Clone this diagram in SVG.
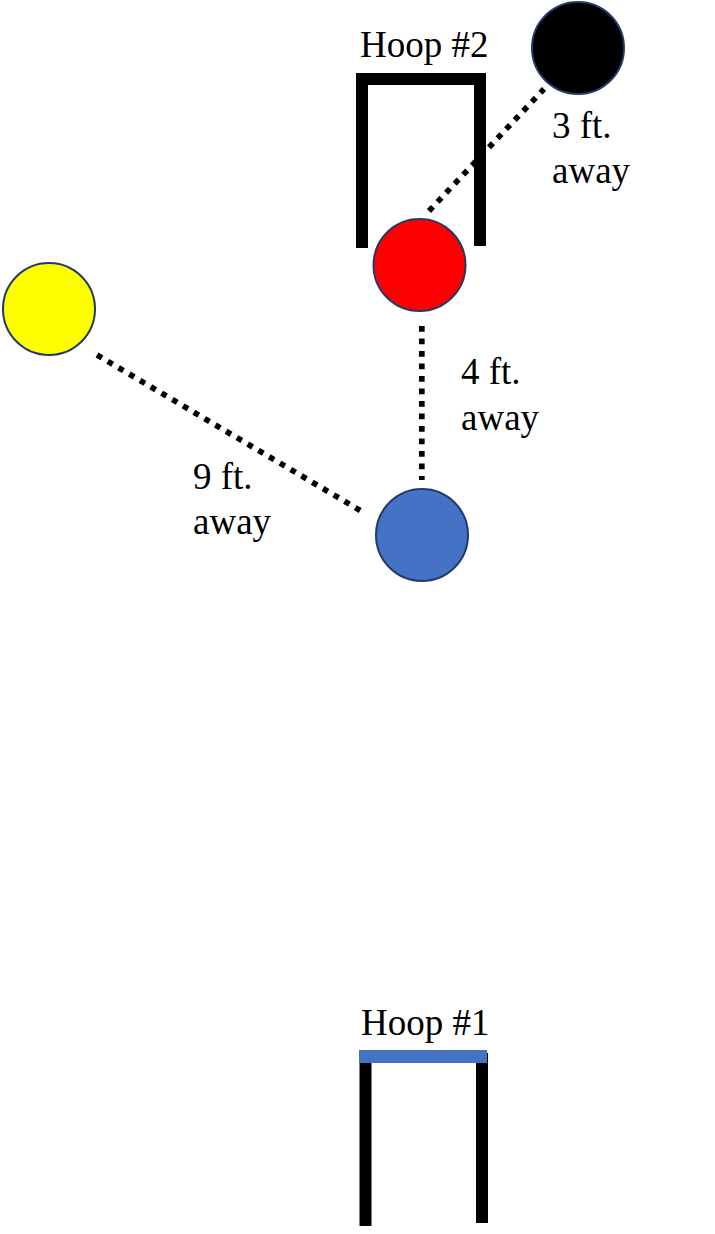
<svg xmlns="http://www.w3.org/2000/svg" width="715" height="1234" viewBox="0 0 715 1234">
<style>
.lbl{font-family:"Liberation Serif","Times New Roman",serif;font-size:37px;fill:#000}
.ball{stroke:#23396a;stroke-width:2}
.dot{stroke:#000;stroke-width:5.7;stroke-dasharray:5.7 6.8;fill:none}
.post{fill:#000}
</style>
<rect width="715" height="1234" fill="#fff"/>
<g id="connectors">
<line class="dot" x1="429" y1="211" x2="544" y2="89"/>
<line class="dot" x1="421.8" y1="326" x2="421.8" y2="480"/>
<line class="dot" x1="97" y1="355" x2="361" y2="511"/>
</g>
<g id="hoop2">
<path d="M362 248 V79 H480 V246" fill="none" stroke="#000" stroke-width="12" stroke-miterlimit="10"/>
<text class="lbl" x="360" y="57">Hoop #2</text>
</g>
<g id="hoop1">
<rect class="post" x="359.5" y="1050" width="12" height="176"/>
<rect class="post" x="476" y="1053" width="12" height="170"/>
<rect x="359" y="1050" width="128" height="13" fill="#4472C4"/>
<text class="lbl" x="361" y="1035">Hoop #1</text>
</g>
<g id="black-ball"><circle class="ball" cx="578" cy="48" r="46" fill="#000"/></g>
<g id="red-ball"><circle class="ball" cx="419.5" cy="265" r="46" fill="#FF0000"/></g>
<g id="yellow-ball"><circle class="ball" cx="49" cy="309" r="46" fill="#FFFF00"/></g>
<g id="blue-ball"><circle class="ball" cx="422" cy="535" r="46" fill="#4472C4"/></g>
<g id="label-3ft">
<text class="lbl" x="552" y="138">3 ft.</text>
<text class="lbl" x="552" y="183">away</text>
</g>
<g id="label-4ft">
<text class="lbl" x="461" y="384">4 ft.</text>
<text class="lbl" x="461" y="430">away</text>
</g>
<g id="label-9ft">
<text class="lbl" x="193" y="489">9 ft.</text>
<text class="lbl" x="193" y="534">away</text>
</g>
</svg>
